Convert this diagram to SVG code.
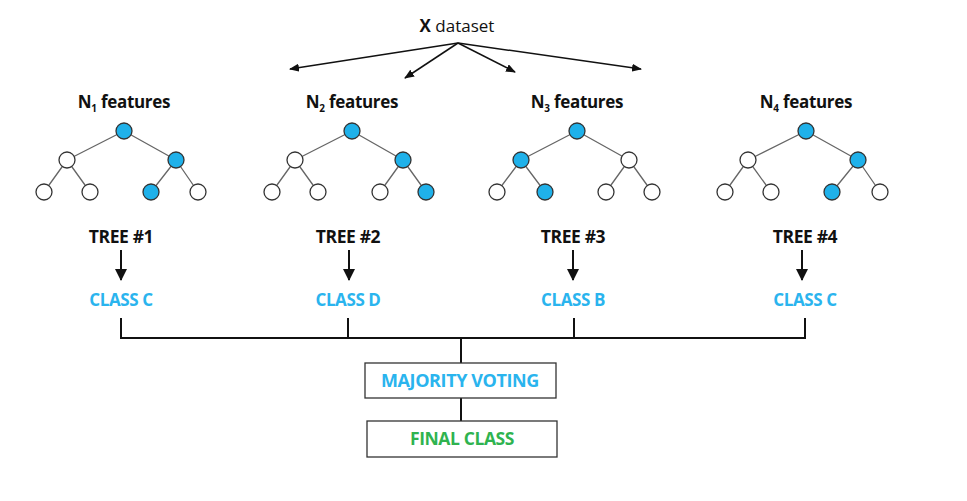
<svg xmlns="http://www.w3.org/2000/svg" width="967" height="501" viewBox="0 0 967 501">
<defs>
<style>
text{font-family:"Open Sans","Liberation Sans",sans-serif;text-anchor:middle}
.hd{font-size:17px;fill:#111;font-weight:700;letter-spacing:-0.3px}
.tr{font-size:17.5px;font-weight:700;fill:#111;letter-spacing:-0.4px}
.cl{font-size:17px;font-weight:700;fill:#2ab4ee;letter-spacing:-0.4px}
.mv{font-size:18px}
.fc{font-size:17.5px;font-weight:700;fill:#2fb34f;letter-spacing:-0.4px}
.e{stroke:#666;stroke-width:1.3;fill:none}
.n{stroke:#333;stroke-width:1.3;fill:#fff}
.b{fill:#1fb1ea}
.ln{stroke:#111;stroke-width:2;fill:none}
.ar{stroke:#111;stroke-width:1.5;fill:none}
.box{fill:#fff;stroke:#333;stroke-width:1.3}
</style>
<marker id="ah" markerWidth="10" markerHeight="8" refX="9" refY="4" orient="auto" markerUnits="userSpaceOnUse"><path d="M0,0L10,4L0,8z" fill="#111"/></marker>
<marker id="ah2" markerWidth="12" markerHeight="12" refX="11" refY="6" orient="auto" markerUnits="userSpaceOnUse"><path d="M0,0L12,6L0,12z" fill="#111"/></marker>
</defs>
<rect width="967" height="501" fill="#fff"/>
<g id="dataset"><text x="457" y="32" class="hd" style="font-weight:400;font-size:17px;letter-spacing:0"><tspan font-weight="700">X</tspan> dataset</text></g>
<g id="connectors">
<line x1="458" y1="43" x2="290" y2="69" class="ar" marker-end="url(#ah)"/>
<line x1="458" y1="43" x2="405" y2="78" class="ar" marker-end="url(#ah)"/>
<line x1="458" y1="43" x2="515" y2="72" class="ar" marker-end="url(#ah)"/>
<line x1="458" y1="43" x2="641" y2="69" class="ar" marker-end="url(#ah)"/>
<line x1="121" y1="250" x2="121" y2="280" class="ln" marker-end="url(#ah2)"/>
<line x1="349" y1="250" x2="349" y2="280" class="ln" marker-end="url(#ah2)"/>
<line x1="573" y1="250" x2="573" y2="280" class="ln" marker-end="url(#ah2)"/>
<line x1="802" y1="250" x2="802" y2="280" class="ln" marker-end="url(#ah2)"/>
<path d="M121,318V338H805V318M348,318V338M574,318V338M461,338V363M461,398V421" class="ln"/>
</g>
<g id="tree1">
<text x="124" y="108" class="hd">N<tspan font-size="10" dy="4">1</tspan><tspan dy="-4"> features</tspan></text>
<path class="e" d="M124,131L67,160M124,131L176,160M67,160L44,192M67,160L90,192M176,160L151,192M176,160L198,192"/>
<circle cx="124" cy="131" r="8" class="n b"/><circle cx="67" cy="160" r="8" class="n"/><circle cx="176" cy="160" r="8" class="n b"/>
<circle cx="44" cy="192" r="8" class="n"/><circle cx="90" cy="192" r="8" class="n"/><circle cx="151" cy="192" r="8" class="n b"/><circle cx="198" cy="192" r="8" class="n"/>
<text x="121" y="243" class="tr">TREE #1</text>
<text x="121" y="306" class="cl">CLASS C</text>
</g>
<g id="tree2">
<text x="352" y="108" class="hd">N<tspan font-size="10" dy="4">2</tspan><tspan dy="-4"> features</tspan></text>
<path class="e" d="M352,131L295,160M352,131L403,160M295,160L272,192M295,160L318,192M403,160L380,192M403,160L426,192"/>
<circle cx="352" cy="131" r="8" class="n b"/><circle cx="295" cy="160" r="8" class="n"/><circle cx="403" cy="160" r="8" class="n b"/>
<circle cx="272" cy="192" r="8" class="n"/><circle cx="318" cy="192" r="8" class="n"/><circle cx="380" cy="192" r="8" class="n"/><circle cx="426" cy="192" r="8" class="n b"/>
<text x="348" y="243" class="tr">TREE #2</text>
<text x="348" y="306" class="cl">CLASS D</text>
</g>
<g id="tree3">
<text x="577" y="108" class="hd">N<tspan font-size="10" dy="4">3</tspan><tspan dy="-4"> features</tspan></text>
<path class="e" d="M577,131L521,160M577,131L629,160M521,160L497,192M521,160L545,192M629,160L606,192M629,160L652,192"/>
<circle cx="577" cy="131" r="8" class="n b"/><circle cx="521" cy="160" r="8" class="n b"/><circle cx="629" cy="160" r="8" class="n"/>
<circle cx="497" cy="192" r="8" class="n"/><circle cx="545" cy="192" r="8" class="n b"/><circle cx="606" cy="192" r="8" class="n"/><circle cx="652" cy="192" r="8" class="n"/>
<text x="573" y="243" class="tr">TREE #3</text>
<text x="573" y="306" class="cl">CLASS B</text>
</g>
<g id="tree4">
<text x="806" y="108" class="hd">N<tspan font-size="10" dy="4">4</tspan><tspan dy="-4"> features</tspan></text>
<path class="e" d="M806,131L748,160M806,131L858,160M748,160L725,192M748,160L771,192M858,160L832,192M858,160L880,192"/>
<circle cx="806" cy="131" r="8" class="n b"/><circle cx="748" cy="160" r="8" class="n"/><circle cx="858" cy="160" r="8" class="n b"/>
<circle cx="725" cy="192" r="8" class="n"/><circle cx="771" cy="192" r="8" class="n"/><circle cx="832" cy="192" r="8" class="n b"/><circle cx="880" cy="192" r="8" class="n"/>
<text x="805" y="243" class="tr">TREE #4</text>
<text x="805" y="306" class="cl">CLASS C</text>
</g>
<g id="majority"><rect x="365" y="363" width="191" height="35" class="box"/><text x="460" y="387" class="cl mv">MAJORITY VOTING</text></g>
<g id="final"><rect x="367" y="421" width="190" height="36" class="box"/><text x="462" y="445" class="fc">FINAL CLASS</text></g>
</svg>
